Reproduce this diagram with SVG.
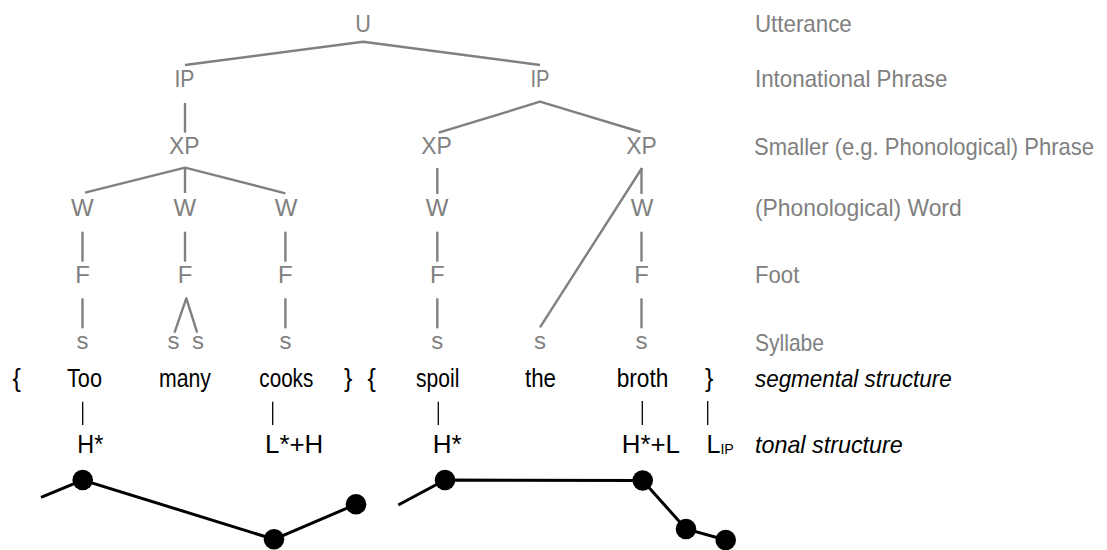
<svg xmlns="http://www.w3.org/2000/svg" width="1107" height="550" viewBox="0 0 1107 550">
<style>
.t{font-family:"Liberation Sans",Arial,sans-serif;font-size:24px;fill:#808080;text-anchor:middle}
.l{font-family:"Liberation Sans",Arial,sans-serif;font-size:24px;fill:#808080}
.seg{font-family:"Liberation Sans",Arial,sans-serif;font-size:25px;fill:#000;text-anchor:middle}
.ton{font-family:"Liberation Sans",Arial,sans-serif;font-size:25px;fill:#000}
.it{font-family:"Liberation Sans",Arial,sans-serif;font-size:24px;fill:#000;font-style:italic}
.tree{stroke:#808080;stroke-width:2.4;fill:none;stroke-linejoin:round}
.tick{stroke:#000;stroke-width:1.3}
.curve{stroke:#000;stroke-width:3;fill:none}
.dot{fill:#000}
</style>
<rect width="1107" height="550" fill="#fff"/>
<g id="connectors">
<polyline class="tree" points="185,65 363,41.7 540,65"/>
<line class="tree" x1="185" y1="103" x2="185" y2="132.7"/>
<polyline class="tree" points="438.7,132.7 540,101.7 640.6,132"/>
<polyline class="tree" points="85,192.7 185,167.7 285.4,193.3"/>
<line class="tree" x1="185" y1="167.7" x2="185" y2="193"/>
<line class="tree" x1="437.3" y1="168" x2="437.3" y2="194"/>
<line class="tree" x1="641.5" y1="168" x2="641.5" y2="194"/>
<line class="tree" x1="642" y1="168" x2="540" y2="327.3"/>
<line class="tree" x1="82.5" y1="231.7" x2="82.5" y2="261.7"/>
<line class="tree" x1="185" y1="231.7" x2="185" y2="261.7"/>
<line class="tree" x1="285.4" y1="231.7" x2="285.4" y2="261.7"/>
<line class="tree" x1="437.3" y1="231.7" x2="437.3" y2="261.7"/>
<line class="tree" x1="641.5" y1="231.7" x2="641.5" y2="261.7"/>
<line class="tree" x1="82.5" y1="298.3" x2="82.5" y2="328.3"/>
<polyline class="tree" points="174.5,332.7 186.3,298.3 197.2,332.7"/>
<line class="tree" x1="285.4" y1="298.3" x2="285.4" y2="328.3"/>
<line class="tree" x1="437.3" y1="298.3" x2="437.3" y2="328.3"/>
<line class="tree" x1="641.5" y1="298.3" x2="641.5" y2="328.3"/>
<line class="tick" x1="82.7" y1="401.7" x2="82.7" y2="425"/>
<line class="tick" x1="272.7" y1="401.7" x2="272.7" y2="425"/>
<line class="tick" x1="438.3" y1="401.7" x2="438.3" y2="425"/>
<line class="tick" x1="642.3" y1="401" x2="642.3" y2="425"/>
<line class="tick" x1="707.7" y1="401" x2="707.7" y2="425"/>
</g>
<g id="node-U"><text class="t" x="363" y="32" textLength="15.6" lengthAdjust="spacingAndGlyphs">U</text></g>
<g id="node-IP1"><text class="t" x="184.4" y="87.3" textLength="20" lengthAdjust="spacingAndGlyphs">IP</text></g>
<g id="node-IP2"><text class="t" x="540" y="87.3" textLength="19" lengthAdjust="spacingAndGlyphs">IP</text></g>
<g id="node-XP1"><text class="t" x="184.2" y="154" textLength="30.5" lengthAdjust="spacingAndGlyphs">XP</text></g>
<g id="node-XP2"><text class="t" x="436.6" y="154" textLength="30.5" lengthAdjust="spacingAndGlyphs">XP</text></g>
<g id="node-XP3"><text class="t" x="641.5" y="154" textLength="30.5" lengthAdjust="spacingAndGlyphs">XP</text></g>
<g id="node-W1"><text class="t" x="82.3" y="216">W</text></g>
<g id="node-W2"><text class="t" x="184.8" y="216">W</text></g>
<g id="node-W3"><text class="t" x="286" y="216">W</text></g>
<g id="node-W4"><text class="t" x="437.2" y="216">W</text></g>
<g id="node-W5"><text class="t" x="642" y="216">W</text></g>
<g id="node-F1"><text class="t" x="82.5" y="283.3">F</text></g>
<g id="node-F2"><text class="t" x="185" y="283.3">F</text></g>
<g id="node-F3"><text class="t" x="285.4" y="283.3">F</text></g>
<g id="node-F4"><text class="t" x="437.3" y="283.3">F</text></g>
<g id="node-F5"><text class="t" x="641.5" y="283.3">F</text></g>
<g id="node-s1"><text class="t" x="82.5" y="349.3">s</text></g>
<g id="node-s2"><text class="t" x="173.6" y="349.3">s</text></g>
<g id="node-s3"><text class="t" x="198" y="349.3">s</text></g>
<g id="node-s4"><text class="t" x="285.4" y="349.3">s</text></g>
<g id="node-s5"><text class="t" x="437.3" y="349.3">s</text></g>
<g id="node-s6"><text class="t" x="540" y="349.3">s</text></g>
<g id="node-s7"><text class="t" x="641.5" y="349.3">s</text></g>
<g id="segments">
<text class="seg" x="16.7" y="386.7">{</text>
<text class="seg" x="84.5" y="386.7" textLength="35" lengthAdjust="spacingAndGlyphs">Too</text>
<text class="seg" x="185" y="386.7" textLength="52" lengthAdjust="spacingAndGlyphs">many</text>
<text class="seg" x="286.3" y="386.7" textLength="54" lengthAdjust="spacingAndGlyphs">cooks</text>
<text class="seg" x="348.3" y="386.7">}</text>
<text class="seg" x="371.7" y="386.7">{</text>
<text class="seg" x="437.7" y="386.7" textLength="43.3" lengthAdjust="spacingAndGlyphs">spoil</text>
<text class="seg" x="540.5" y="386.7" textLength="31" lengthAdjust="spacingAndGlyphs">the</text>
<text class="seg" x="642.5" y="386.7" textLength="51.7" lengthAdjust="spacingAndGlyphs">broth</text>
<text class="seg" x="709.3" y="386.7">}</text>
</g>
<g id="tones">
<text class="ton" x="77.3" y="452.7" textLength="26" lengthAdjust="spacingAndGlyphs">H*</text>
<text class="ton" x="265" y="452.7" textLength="58.3" lengthAdjust="spacingAndGlyphs">L*+H</text>
<text class="ton" x="432.7" y="452.7" textLength="29" lengthAdjust="spacingAndGlyphs">H*</text>
<text class="ton" x="621.7" y="452.7" textLength="58.3" lengthAdjust="spacingAndGlyphs">H*+L</text>
<text class="ton" x="706.5" y="452.7">L<tspan font-size="14" dy="1" textLength="13.4" lengthAdjust="spacingAndGlyphs">IP</tspan></text>
</g>
<g id="contour">
<polyline class="curve" points="41,497.3 82.7,480 274,539.3 356,504.3"/>
<polyline class="curve" points="398.3,505 445,480 642.7,480.5 686,529 725.7,540"/>
<circle class="dot" cx="82.7" cy="480" r="10.3"/>
<circle class="dot" cx="274" cy="539.3" r="10.3"/>
<circle class="dot" cx="356" cy="504.3" r="10.3"/>
<circle class="dot" cx="445" cy="480" r="10.3"/>
<circle class="dot" cx="642.7" cy="480.5" r="10.3"/>
<circle class="dot" cx="686" cy="529" r="10.3"/>
<circle class="dot" cx="725.7" cy="540" r="10.3"/>
</g>
<g id="legend">
<text class="l" x="755" y="32" textLength="96.7" lengthAdjust="spacingAndGlyphs">Utterance</text>
<text class="l" x="755" y="87.3" textLength="192.3" lengthAdjust="spacingAndGlyphs">Intonational Phrase</text>
<text class="l" x="754" y="154.5" font-size="21" textLength="340" lengthAdjust="spacingAndGlyphs">Smaller (e.g. Phonological) Phrase</text>
<text class="l" x="755" y="216" textLength="206.7" lengthAdjust="spacingAndGlyphs">(Phonological) Word</text>
<text class="l" x="755" y="283.3" textLength="44.3" lengthAdjust="spacingAndGlyphs">Foot</text>
<text class="l" x="755" y="351" textLength="69" lengthAdjust="spacingAndGlyphs">Syllabe</text>
<text class="it" x="755" y="386.7" textLength="196.7" lengthAdjust="spacingAndGlyphs">segmental structure</text>
<text class="it" x="755" y="452.7" textLength="147.7" lengthAdjust="spacingAndGlyphs">tonal structure</text>
</g>
</svg>
